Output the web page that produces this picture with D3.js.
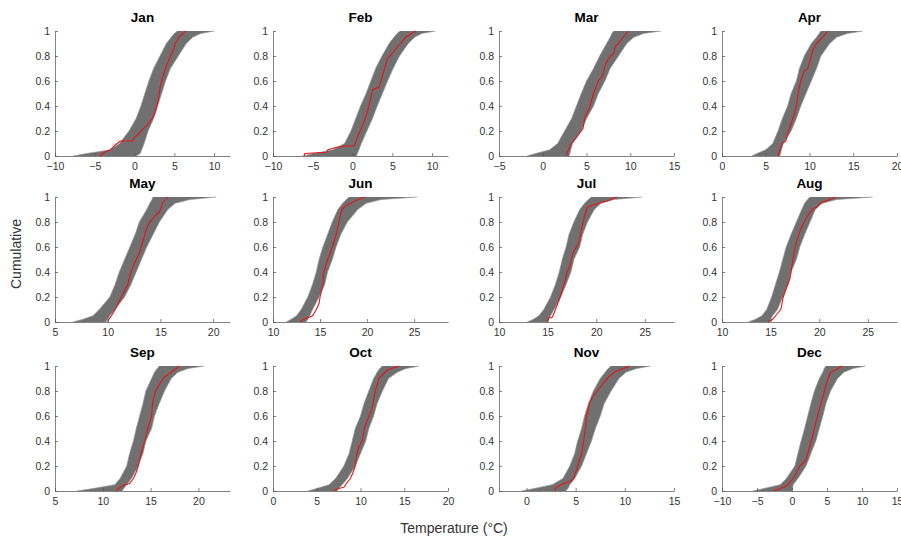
<!DOCTYPE html>
<html>
<head>
<meta charset="utf-8">
<script src="https://cdn.jsdelivr.net/npm/d3@7"></script>
<style>
  body { margin: 0; background: #fff; }
  svg { font-family: "Liberation Sans", Arial, sans-serif; }
  .tick text { fill: #333; font-size: 10.5px; }
  .domain, .tick line { stroke: #4d4d4d; stroke-width: 0.7; }
</style>
</head>
<body>
<div id="chart"></div>
<script>
/* DATA */
const months = ["Jan", "Feb", "Mar", "Apr", "May", "Jun", "Jul", "Aug", "Sep", "Oct", "Nov", "Dec"];

// x limits and tick labels of each panel
const xDomains = [[-10, 12], [-10, 12], [-5, 15], [0, 20], [5, 21.6], [10, 28.6],
                  [10, 28], [10, 28], [5, 23.3], [0, 20], [-2.8, 15], [-10, 15]];
const xTicks = [[-10, -5, 0, 5, 10], [-10, -5, 0, 5, 10], [-5, 0, 5, 10, 15], [0, 5, 10, 15, 20],
                [5, 10, 15, 20], [10, 15, 20, 25], [10, 15, 20, 25], [10, 15, 20, 25],
                [5, 10, 15, 20], [0, 5, 10, 15, 20], [0, 5, 10, 15], [-10, -5, 0, 5, 10, 15]];
const yTicks = [0, 0.2, 0.4, 0.6, 0.8, 1];

// cumulative levels for the grey ensemble envelope
const pGrid = [0, 0.02, 0.05, 0.1, 0.2, 0.3, 0.4, 0.5, 0.6, 0.7, 0.8, 0.9, 0.95, 0.98, 1];

// left edge of the grey ensemble (temperature at each pGrid level)
const greyLo = [
  [-7.7, -6.0, -3.0, -1.9, -0.7, 0.2, 0.8, 1.3, 1.8, 2.4, 3.2, 4.0, 4.6, 5.0, 5.4],
  [-6.3, -4.8, -2.5, -1.0, -0.2, 0.4, 1.0, 1.7, 2.3, 2.9, 3.7, 4.6, 5.2, 5.6, 6.0],
  [-1.8, -0.8, 0.8, 1.7, 2.5, 3.3, 3.85, 4.4, 5.0, 5.8, 6.5, 7.3, 7.7, 7.9, 8.1],
  [3.4, 4.0, 5.0, 5.8, 6.4, 6.9, 7.5, 7.9, 8.5, 8.85, 9.4, 10.2, 10.8, 11.1, 11.3],
  [6.7, 7.6, 8.6, 9.2, 10.2, 10.7, 11.1, 11.6, 12.1, 12.6, 13.0, 13.7, 14.0, 14.2, 14.3],
  [11.4, 11.9, 12.5, 13.0, 13.7, 14.2, 14.6, 14.9, 15.3, 15.8, 16.3, 16.9, 17.4, 17.8, 18.1],
  [12.9, 13.5, 14.1, 14.6, 15.3, 15.8, 16.2, 16.5, 16.9, 17.2, 17.7, 18.3, 18.8, 19.2, 19.5],
  [12.7, 13.4, 14.1, 14.6, 15.1, 15.5, 15.9, 16.25, 16.6, 17.1, 17.65, 18.2, 18.5, 18.8, 19.05],
  [7.3, 9.0, 11.25, 11.8, 12.5, 12.8, 13.2, 13.5, 13.85, 14.2, 14.5, 15.1, 15.4, 15.7, 15.9],
  [4.0, 5.0, 6.4, 7.15, 8.1, 8.7, 9.05, 9.4, 10.0, 10.4, 10.95, 11.5, 11.9, 12.2, 12.5],
  [-0.5, 0.8, 2.6, 3.7, 4.4, 4.9, 5.2, 5.6, 5.9, 6.3, 6.8, 7.5, 8.0, 8.3, 8.6],
  [-5.6, -4.0, -1.7, -0.8, 0.4, 0.85, 1.3, 1.8, 2.25, 2.7, 3.2, 3.9, 4.4, 4.6, 4.85]
];
// right edge of the grey ensemble
const greyHi = [
  [0.2, 0.7, 0.9, 1.2, 1.7, 2.4, 2.9, 3.4, 3.9, 4.5, 5.5, 6.5, 7.3, 8.3, 10.0],
  [0.5, 0.6, 0.8, 1.1, 1.8, 2.5, 3.1, 3.75, 4.4, 5.1, 5.9, 7.0, 7.8, 8.7, 10.4],
  [3.0, 3.1, 3.2, 3.4, 4.4, 5.0, 5.8, 6.35, 7.1, 7.7, 8.65, 9.6, 10.4, 11.5, 13.5],
  [6.6, 6.7, 6.8, 7.0, 7.9, 8.5, 9.0, 9.6, 10.2, 10.8, 11.3, 12.3, 13.1, 14.3, 16.1],
  [9.8, 10.0, 10.2, 10.7, 11.6, 12.2, 12.7, 13.2, 13.7, 14.3, 14.9, 15.7, 16.4, 17.8, 20.3],
  [13.5, 13.7, 13.9, 14.2, 14.9, 15.5, 15.8, 16.3, 16.7, 17.2, 17.9, 19.0, 19.9, 21.5, 25.3],
  [15.0, 15.1, 15.3, 15.65, 16.35, 16.9, 17.4, 17.7, 18.3, 18.6, 19.1, 19.8, 20.5, 21.8, 24.7],
  [14.9, 15.0, 15.2, 15.7, 16.25, 16.8, 17.1, 17.65, 18.0, 18.5, 19.05, 19.6, 20.3, 21.8, 25.5],
  [12.0, 12.2, 12.5, 13.0, 13.7, 14.2, 14.5, 15.1, 15.4, 15.9, 16.45, 17.15, 17.85, 18.9, 20.6],
  [7.3, 7.5, 7.9, 8.5, 9.4, 10.0, 10.6, 10.95, 11.5, 11.9, 12.5, 13.2, 14.2, 15.2, 16.7],
  [4.0, 4.2, 4.4, 4.9, 5.6, 6.1, 6.6, 7.0, 7.5, 7.9, 8.6, 9.4, 10.1, 11.2, 12.6],
  [0.0, 0.1, 0.15, 0.85, 2.0, 2.7, 3.4, 3.9, 4.4, 4.85, 5.5, 6.5, 7.4, 8.7, 10.5]
];

// observed (red) curve: [temperature, cumulative]
const observed = [
  [[-4.4,0],[-3.8,0.03],[-3.0,0.05],[-2.4,0.09],[-1.8,0.12],[-0.3,0.12],[0,0.15],[0.4,0.17],[0.8,0.2],[1.6,0.25],[2.2,0.3],[2.6,0.35],[3.0,0.45],[3.2,0.55],[3.5,0.62],[3.9,0.7],[4.5,0.8],[4.9,0.85],[5.1,0.9],[5.6,0.95],[6.4,1]],
  [[-6.1,0],[-6.0,0.02],[-3.3,0.03],[-3.1,0.05],[-2.0,0.07],[-1.0,0.08],[0.2,0.08],[0.8,0.18],[1.25,0.24],[1.9,0.36],[2.2,0.44],[2.5,0.53],[3.3,0.55],[3.75,0.64],[4.4,0.78],[5.0,0.82],[5.6,0.87],[6.7,0.95],[7.9,1]],
  [[2.7,0],[2.8,0.03],[3.3,0.1],[3.85,0.15],[4.4,0.2],[4.6,0.22],[4.8,0.3],[5.4,0.4],[5.8,0.5],[6.35,0.6],[6.9,0.65],[7.1,0.72],[7.5,0.78],[8.1,0.82],[8.3,0.88],[8.65,0.9],[9.2,0.95],[9.8,1]],
  [[6.4,0],[6.6,0.05],[6.9,0.1],[7.3,0.12],[7.6,0.2],[8.1,0.3],[8.5,0.4],[8.7,0.5],[9.0,0.6],[9.4,0.68],[9.8,0.7],[10.2,0.8],[10.4,0.85],[10.8,0.9],[11.5,0.95],[12.1,1]],
  [[10.0,0],[10.1,0.02],[10.35,0.05],[10.7,0.1],[11.0,0.15],[11.3,0.2],[11.6,0.25],[11.9,0.3],[12.2,0.4],[12.7,0.5],[13.0,0.55],[13.35,0.65],[13.7,0.75],[14.0,0.8],[14.5,0.85],[14.9,0.88],[15.1,0.92],[15.2,0.95],[15.7,1]],
  [[12.9,0],[13.2,0.02],[13.9,0.04],[14.2,0.05],[14.6,0.1],[14.9,0.15],[15.0,0.2],[15.3,0.3],[15.4,0.4],[15.8,0.5],[16.1,0.55],[16.3,0.6],[16.7,0.7],[17.0,0.8],[17.3,0.9],[17.7,0.93],[18.5,0.96],[19.7,1]],
  [[14.9,0],[15.1,0.03],[15.5,0.04],[15.8,0.1],[16.2,0.18],[16.5,0.25],[16.7,0.3],[17.0,0.4],[17.3,0.45],[17.6,0.55],[18.1,0.62],[18.3,0.65],[18.5,0.75],[18.8,0.85],[19.1,0.92],[20.2,0.95],[21.2,0.97],[22.1,1]],
  [[14.7,0],[15.2,0.02],[15.5,0.05],[16.05,0.1],[16.3,0.2],[16.75,0.3],[17.0,0.35],[17.2,0.45],[17.4,0.55],[17.7,0.65],[18.0,0.72],[18.45,0.8],[18.8,0.85],[19.3,0.9],[19.75,0.92],[20.1,0.95],[21.7,1]],
  [[11.4,0],[11.8,0.03],[12.3,0.05],[12.8,0.06],[13.2,0.1],[13.5,0.15],[13.7,0.2],[14.0,0.3],[14.4,0.4],[14.7,0.5],[15.1,0.6],[15.2,0.7],[15.5,0.8],[15.9,0.85],[16.3,0.9],[16.6,0.92],[17.15,0.95],[18.0,1]],
  [[7.0,0],[7.5,0.02],[8.1,0.03],[8.5,0.07],[8.85,0.1],[9.15,0.15],[9.4,0.2],[9.6,0.3],[9.8,0.35],[10.2,0.4],[10.45,0.5],[10.95,0.6],[11.3,0.65],[11.7,0.8],[12.1,0.9],[12.5,0.93],[13.1,0.97],[14.4,1]],
  [[2.9,0],[3.0,0.03],[3.85,0.06],[4.5,0.08],[4.8,0.1],[5.2,0.2],[5.6,0.3],[5.8,0.4],[6.0,0.5],[6.1,0.6],[6.4,0.7],[6.7,0.75],[7.2,0.8],[7.7,0.85],[8.2,0.9],[8.9,0.95],[10.5,1]],
  [[-2.6,0],[-1.7,0.02],[-0.8,0.04],[-0.1,0.08],[0.4,0.12],[1.1,0.2],[1.5,0.22],[2.0,0.25],[2.5,0.35],[3.0,0.45],[3.4,0.55],[3.9,0.65],[4.4,0.75],[4.85,0.85],[5.5,0.95],[6.25,0.97],[7.2,1]]
];

/* LAYOUT */
const width = 901, height = 536;
const colX = [55, 273, 499, 722], panelW = 175;
const rowY = [31, 197, 366], panelH = 125;

const svg = d3.select("#chart").append("svg")
  .attr("width", width)
  .attr("height", height);

months.forEach((m, i) => {
  const left = colX[i % 4], top = rowY[Math.floor(i / 4)];

  const x = d3.scaleLinear().domain(xDomains[i]).range([0, panelW]);
  const y = d3.scaleLinear().domain([0, 1]).range([panelH, 0]);

  const g = svg.append("g").attr("transform", `translate(${left},${top})`);

  // grey ensemble band
  const band = pGrid.map((p, k) => ({ p, lo: greyLo[i][k], hi: greyHi[i][k] }));
  g.append("path")
    .datum(band)
    .attr("fill", "#707070")
    .attr("d", d3.area()
      .y(d => y(d.p))
      .x0(d => x(d.lo))
      .x1(d => x(d.hi)));

  ["lo", "hi"].forEach(k => {
    g.append("path")
      .datum(band)
      .attr("fill", "none")
      .attr("stroke", "#949494")
      .attr("stroke-width", 0.7)
      .attr("d", d3.line().x(d => x(d[k])).y(d => y(d.p)));
  });

  // observed curve
  g.append("path")
    .datum(observed[i])
    .attr("fill", "none")
    .attr("stroke", "#e81414")
    .attr("stroke-width", 1.1)
    .attr("d", d3.line().x(d => x(d[0])).y(d => y(d[1])));

  // axes
  g.append("g")
    .attr("transform", `translate(0,${panelH})`)
    .call(d3.axisBottom(x).tickValues(xTicks[i]).tickFormat(d3.format("d"))
      .tickSizeInner(-3).tickSizeOuter(0).tickPadding(7));

  g.append("g")
    .call(d3.axisLeft(y).tickValues(yTicks).tickFormat(d => d === 0 || d === 1 ? d : d.toFixed(1))
      .tickSizeInner(-3).tickSizeOuter(0).tickPadding(5));

  g.append("text")
    .attr("x", panelW / 2)
    .attr("y", -9)
    .attr("text-anchor", "middle")
    .attr("font-size", 13.5)
    .attr("font-weight", "bold")
    .attr("fill", "#000")
    .text(m);
});

svg.append("text")
  .attr("transform", "translate(21,254) rotate(-90)")
  .attr("text-anchor", "middle")
  .attr("font-size", 14)
  .attr("fill", "#333")
  .text("Cumulative");

svg.append("text")
  .attr("x", 454)
  .attr("y", 533)
  .attr("text-anchor", "middle")
  .attr("font-size", 14)
  .attr("fill", "#333")
  .text("Temperature (°C)");
</script>
</body>
</html>
